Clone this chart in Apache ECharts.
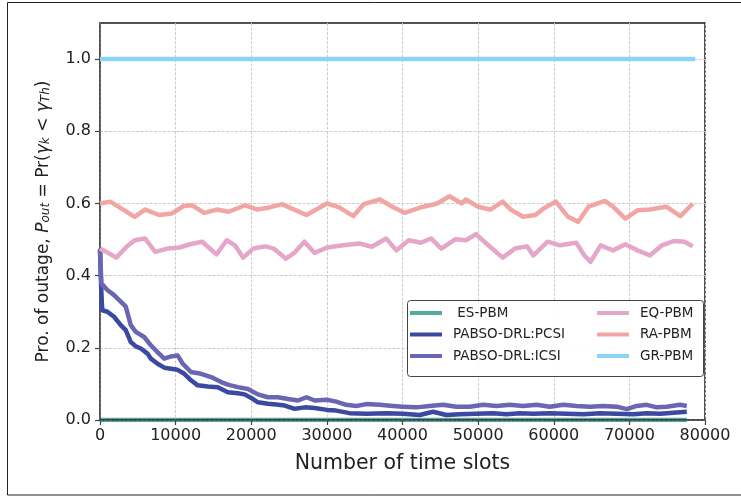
<!DOCTYPE html>
<html>
<head>
<meta charset="utf-8">
<script src="https://cdn.jsdelivr.net/npm/echarts@6/dist/echarts.min.js"></script>
<style>
html,body{margin:0;padding:0;background:#fff;}
#c{width:741px;height:496px;}
</style>
</head>
<body>
<div id="c"></div>
<script>
// ---- data ----
const seriesNames = [' ES-PBM', 'PABSO-DRL:PCSI', 'PABSO-DRL:ICSI', 'EQ-PBM', 'RA-PBM', 'GR-PBM'];
const xTicks = [0, 10000, 20000, 30000, 40000, 50000, 60000, 70000, 80000];
const yTicks = [0.0, 0.2, 0.4, 0.6, 0.8, 1.0];

const esX = [0, 77600];
const esY = [0, 0];

const grX = [0, 78700];
const grY = [1, 1];

const pcsiX = [0, 100, 250, 310, 973, 1858, 2743, 3407, 4071, 4735, 5398, 6283, 6726, 7611, 8496, 9381, 10265, 11150, 12035, 12920, 14250, 15575, 16900, 18230, 19115, 20000, 20885, 22210, 23320, 24425, 25750, 27080, 28400, 30000, 31240, 33000, 35210, 37860, 40070, 42270, 44040, 45800, 47570, 49780, 51990, 53750, 55520, 57280, 59490, 61700, 63910, 66110, 68320, 70530, 72300, 74060, 75830, 77590];
const pcsiY = [0.470, 0.400, 0.320, 0.304, 0.300, 0.286, 0.263, 0.249, 0.216, 0.204, 0.198, 0.184, 0.170, 0.156, 0.145, 0.142, 0.139, 0.128, 0.110, 0.096, 0.093, 0.091, 0.077, 0.074, 0.071, 0.061, 0.049, 0.045, 0.043, 0.040, 0.031, 0.035, 0.033, 0.028, 0.026, 0.019, 0.017, 0.019, 0.017, 0.014, 0.023, 0.014, 0.016, 0.017, 0.019, 0.016, 0.019, 0.017, 0.019, 0.017, 0.016, 0.019, 0.017, 0.016, 0.019, 0.017, 0.020, 0.023];

const icsiX = [0, 100, 177, 973, 1858, 2743, 3407, 4071, 4735, 5841, 6726, 7611, 8496, 9381, 10265, 10929, 12035, 13363, 14690, 16018, 16900, 18230, 19558, 20885, 22210, 23540, 24867, 26195, 27300, 28400, 30000, 31240, 32560, 33890, 35210, 36980, 38740, 40070, 41830, 43600, 45360, 47130, 48900, 50660, 52430, 54190, 55960, 57730, 59490, 61260, 63020, 64790, 66560, 68320, 69650, 70970, 72300, 73620, 74940, 76710, 77590];
const icsiY = [0.475, 0.420, 0.379, 0.360, 0.346, 0.328, 0.314, 0.263, 0.244, 0.230, 0.207, 0.188, 0.170, 0.176, 0.179, 0.156, 0.133, 0.128, 0.119, 0.105, 0.098, 0.091, 0.086, 0.071, 0.063, 0.063, 0.058, 0.054, 0.063, 0.054, 0.056, 0.051, 0.042, 0.039, 0.044, 0.042, 0.039, 0.037, 0.035, 0.039, 0.042, 0.037, 0.037, 0.042, 0.039, 0.042, 0.039, 0.042, 0.037, 0.042, 0.039, 0.037, 0.039, 0.037, 0.030, 0.039, 0.042, 0.035, 0.037, 0.042, 0.039];

const eqX = [0, 811, 2162, 3513, 4594, 5946, 7297, 8918, 10540, 11890, 13510, 15400, 16760, 17840, 18920, 20270, 21890, 22970, 24590, 25680, 27030, 28380, 30000, 32160, 34320, 35940, 37840, 39190, 40810, 42430, 43780, 45130, 47020, 48380, 49730, 51080, 53240, 54860, 56490, 57300, 59190, 60810, 62970, 64050, 64860, 66210, 67840, 69460, 71080, 72700, 74320, 75950, 77300, 78380];
const eqY = [0.475, 0.466, 0.450, 0.480, 0.498, 0.503, 0.466, 0.475, 0.478, 0.487, 0.494, 0.459, 0.498, 0.484, 0.450, 0.475, 0.481, 0.475, 0.447, 0.463, 0.494, 0.463, 0.478, 0.484, 0.489, 0.480, 0.503, 0.470, 0.498, 0.491, 0.503, 0.475, 0.501, 0.498, 0.515, 0.489, 0.450, 0.475, 0.481, 0.456, 0.494, 0.484, 0.491, 0.456, 0.438, 0.484, 0.470, 0.487, 0.470, 0.456, 0.484, 0.496, 0.494, 0.481];

const raX = [0, 1350, 2430, 4590, 5950, 7840, 9460, 11080, 12160, 13780, 15400, 17030, 19190, 20810, 22430, 24050, 25680, 27300, 30000, 31620, 33510, 34860, 37020, 38650, 40270, 42430, 44590, 46220, 47840, 48380, 50000, 51620, 53240, 54320, 55950, 57570, 58650, 60270, 61890, 63240, 64590, 66760, 67840, 69460, 71080, 72700, 74860, 76760, 78380];
const raY = [0.600, 0.605, 0.591, 0.563, 0.583, 0.568, 0.572, 0.593, 0.595, 0.574, 0.583, 0.577, 0.595, 0.583, 0.589, 0.598, 0.583, 0.568, 0.600, 0.589, 0.565, 0.598, 0.611, 0.591, 0.574, 0.589, 0.600, 0.620, 0.600, 0.611, 0.591, 0.583, 0.605, 0.583, 0.563, 0.568, 0.586, 0.605, 0.563, 0.549, 0.591, 0.607, 0.591, 0.558, 0.581, 0.583, 0.591, 0.565, 0.600];

const colors = ['#52ab9f', '#3b4aa0', '#6a66b3', '#e6a6ca', '#f2a6a4', '#8ad5f6'];

// ---- build ----
function zip(xs, ys) { return xs.map((x, i) => [x, ys[i]]); }
const seriesData = [zip(esX, esY), zip(pcsiX, pcsiY), zip(icsiX, icsiY), zip(eqX, eqY), zip(raX, raY), zip(grX, grY)];

const FONT = 'DejaVu Sans';
const chart = echarts.init(document.getElementById('c'), null, {renderer: 'canvas'});

const series = seriesNames.map((n, i) => ({
  name: n,
  type: 'line',
  data: seriesData[i],
  showSymbol: false,
  symbol: 'none',
  color: colors[i],
  lineStyle: {color: colors[i], width: 4.5, join: 'round', cap: 'butt'},
  z: i === 0 ? -1 : 2 + i * 0.01,
  silent: true
}));

const legendCommon = {
  orient: 'vertical',
  itemWidth: 32,
  itemHeight: 4,
  itemGap: 5.5,
  icon: 'rect',
  padding: 0,
  selectedMode: false,
  textStyle: {fontSize: 13.5, fontFamily: FONT, color: '#222', lineHeight: 16, padding: [0, 0, 0, 6]}
};

const option = {
  animation: false,
  backgroundColor: '#ffffff',
  grid: {left: 100, right: 36, top: 23, bottom: 76, show: true, borderColor: '#1a1a1a', borderWidth: 1.5, backgroundColor: 'transparent'},
  xAxis: {
    type: 'value', min: 0, max: 80000, interval: 10000,
    axisLine: {show: true, onZero: false, lineStyle: {color: '#444', width: 1.5}},
    axisTick: {show: true, length: 5, lineStyle: {color: '#444', width: 1.2}},
    axisLabel: {fontSize: 16, color: '#222', margin: 8, fontFamily: FONT, formatter: v => String(v), customValues: xTicks},
    splitLine: {show: true, lineStyle: {color: '#cccccc', type: [3, 1.5], width: 1}},
    name: 'Number of time slots', nameLocation: 'middle', nameGap: 33,
    nameTextStyle: {fontSize: 20.5, fontFamily: FONT, color: '#222'}
  },
  yAxis: {
    type: 'value', min: 0, max: 1.1, interval: 0.2,
    axisLine: {show: true, onZero: false, lineStyle: {color: '#555', width: 1.5}},
    axisTick: {show: true, length: 5, lineStyle: {color: '#444', width: 1.2}, customValues: yTicks},
    axisLabel: {fontSize: 16, color: '#222', margin: 9, fontFamily: FONT, formatter: v => v.toFixed(1), customValues: yTicks},
    splitLine: {show: true, lineStyle: {color: '#cccccc', type: [3, 1.5], width: 1}},
    name: '{a|Pro. of outage, }{i|P}{s|out}{a| = Pr(}{i|γ}{s|k}{a| < }{i|γ}{s|Th}{a|)}',
    nameLocation: 'middle', nameGap: 48,
    nameTextStyle: {
      fontSize: 17, fontFamily: FONT, color: '#222',
      rich: {
        a: {fontSize: 17, fontFamily: FONT, color: '#222'},
        i: {fontSize: 17, fontFamily: FONT, color: '#222', fontStyle: 'italic'},
        s: {fontSize: 12, fontFamily: FONT, color: '#222', fontStyle: 'italic', verticalAlign: 'bottom'}
      }
    }
  },
  legend: [
    Object.assign({}, legendCommon, {data: seriesNames.slice(0, 3), left: 410, top: 305}),
    Object.assign({}, legendCommon, {data: seriesNames.slice(3, 6), left: 597, top: 305})
  ],
  graphic: [
    {type: 'rect', z: 3, shape: {x: 407.5, y: 300.5, width: 296, height: 76, r: 3},
     style: {fill: 'rgba(255,255,255,0.9)', stroke: '#444', lineWidth: 1}},
    {type: 'rect', z: 10, silent: true, shape: {x: 7.5, y: 2.5, width: 760, height: 492.5},
     style: {fill: 'none', stroke: '#222', lineWidth: 1}}
  ],
  series: series
};
chart.setOption(option);
</script>
</body>
</html>
